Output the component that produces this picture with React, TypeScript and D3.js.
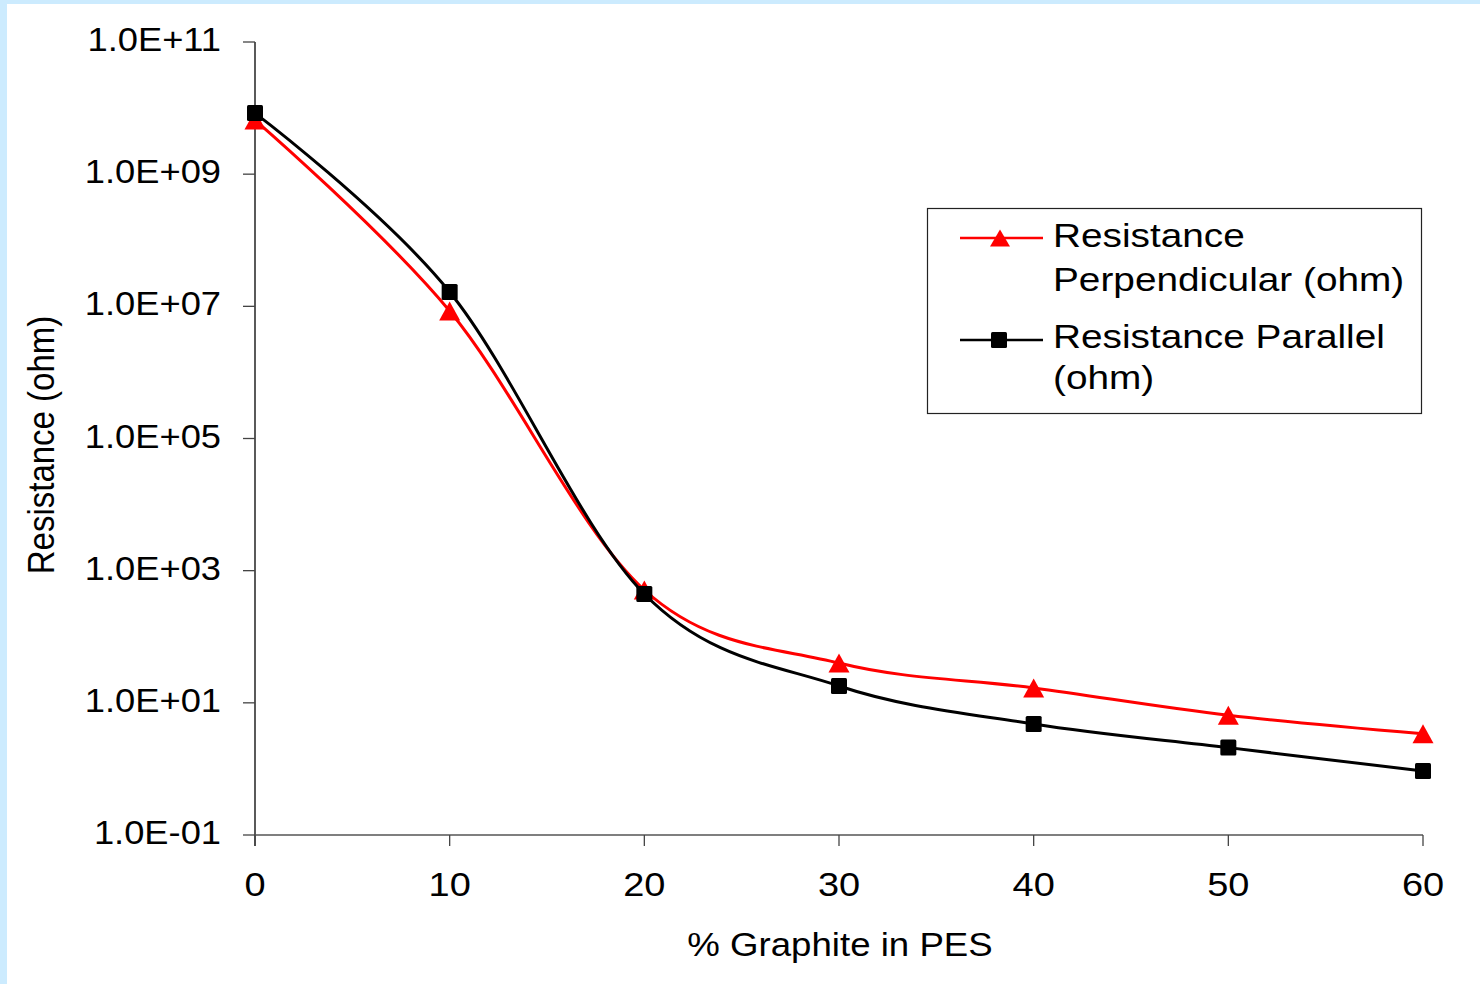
import React from "react";
import * as d3 from "d3";

const graphitePct = [0, 10, 20, 30, 40, 50, 60];
const resistancePerpendicular = [6.6e9, 8.5e6, 510, 40, 16.8, 6.5, 3.4];
const resistanceParallel = [8.4e9, 1.65e7, 444, 18, 4.8, 2.1, 0.93];
const yTickValues = [1e11, 1e9, 1e7, 1e5, 1e3, 1e1, 1e-1];
const yTickLabels = ["1.0E+11", "1.0E+09", "1.0E+07", "1.0E+05", "1.0E+03", "1.0E+01", "1.0E-01"];
const xTickValues = [0, 10, 20, 30, 40, 50, 60];
const seriesNames = ["Resistance Perpendicular (ohm)", "Resistance Parallel (ohm)"];

const W = 1480;
const H = 984;
const FONT = "'Liberation Sans', Arial, Helvetica, sans-serif";
const FS = 33;
const SX_YTICK = 1.1;
const SX_XTICK = 1.15;
const SX_TITLE = 1.11;
const SX_LEGEND = 1.175;

export default function App() {
  const x = d3.scaleLinear().domain([0, 60]).range([255, 1423]);
  const y = d3.scaleLog().domain([1e-1, 1e11]).range([835, 42]);
  const line = d3
    .line<[number, number]>()
    .x((d) => x(d[0]))
    .y((d) => y(d[1]))
    .curve(d3.curveCardinal.tension(0));

  const perp: [number, number][] = graphitePct.map((g, i) => [g, resistancePerpendicular[i]]);
  const para: [number, number][] = graphitePct.map((g, i) => [g, resistanceParallel[i]]);

  const tri = (cx: number, cy: number, w = 21, h = 19) =>
    `M${cx},${cy - h / 2}L${cx + w / 2},${cy + h / 2}L${cx - w / 2},${cy + h / 2}Z`;
  const sq = 16;

  const y0 = 835;
  const xLeft = 255;

  return (
    <svg
      width={W}
      height={H}
      style={{ position: "absolute", left: 0, top: 0, background: "#fff" }}
      fontFamily={FONT}
    >
      <rect x={0} y={0} width={W} height={H} fill="#fff" />
      <rect x={0} y={0} width={W} height={4} fill="#CCEBFE" />
      <rect x={0} y={0} width={7} height={H} fill="#CCEBFE" />

      {/* Y axis */}
      <line x1={xLeft} x2={xLeft} y1={y(1e11)} y2={y0 + 11} stroke="#000" strokeWidth={1.3} />
      {yTickValues.map((v, i) => (
        <g key={"yt" + i}>
          <line x1={xLeft - 12} x2={xLeft} y1={y(v)} y2={y(v)} stroke="#444" strokeWidth={1.3} />
          <text
            transform={`translate(221,${y(v) + 9}) scale(${SX_YTICK},1)`}
            textAnchor="end"
            fontSize={FS}
            fill="#000"
          >
            {yTickLabels[i]}
          </text>
        </g>
      ))}

      {/* X axis */}
      <line x1={xLeft} x2={x(60)} y1={y0} y2={y0} stroke="#555" strokeWidth={1.5} />
      {xTickValues.map((v) => (
        <g key={"xt" + v}>
          <line x1={x(v)} x2={x(v)} y1={y0} y2={y0 + 11} stroke="#444" strokeWidth={1.3} />
          <text
            transform={`translate(${x(v)},896) scale(${SX_XTICK},1)`}
            textAnchor="middle"
            fontSize={FS}
            fill="#000"
          >
            {v}
          </text>
        </g>
      ))}

      {/* Axis titles */}
      <text
        transform={`translate(840,956) scale(${SX_TITLE},1)`}
        textAnchor="middle"
        fontSize={FS}
        fill="#000"
      >
        % Graphite in PES
      </text>
      <text
        transform={`translate(54,445) scale(1.12,1) rotate(-90)`}
        textAnchor="middle"
        fontSize={FS}
        fill="#000"
      >
        Resistance (ohm)
      </text>

      {/* Series */}
      <path d={line(perp) || ""} fill="none" stroke="#FF0000" strokeWidth={3} />
      <path d={line(para) || ""} fill="none" stroke="#000" strokeWidth={3} />
      {perp.map((d, i) => (
        <path key={"pm" + i} d={tri(x(d[0]), y(d[1]))} fill="#FF0000" />
      ))}
      {para.map((d, i) => (
        <rect
          key={"qm" + i}
          x={x(d[0]) - sq / 2}
          y={y(d[1]) - sq / 2}
          width={sq}
          height={sq}
          rx={1.5}
          fill="#000"
        />
      ))}

      {/* Legend */}
      <rect x={927.5} y={208.5} width={494} height={205} fill="#fff" stroke="#222" strokeWidth={1.2} />
      <line x1={960} x2={1043} y1={238} y2={238} stroke="#FF0000" strokeWidth={2.5} />
      <path d={tri(1000, 238, 20, 17)} fill="#FF0000" />
      <line x1={960} x2={1043} y1={340} y2={340} stroke="#000" strokeWidth={2.5} />
      <rect x={991} y={332} width={16} height={16} rx={1.5} fill="#000" />
      <text transform={`translate(1053,247) scale(${SX_LEGEND},1)`} fontSize={FS} fill="#000">
        {seriesNames[0].split(" ")[0]}
      </text>
      <text transform={`translate(1053,291) scale(${SX_LEGEND},1)`} fontSize={FS} fill="#000">
        {seriesNames[0].split(" ").slice(1).join(" ")}
      </text>
      <text transform={`translate(1053,348) scale(${SX_LEGEND},1)`} fontSize={FS} fill="#000">
        {seriesNames[1].split(" ").slice(0, 2).join(" ")}
      </text>
      <text transform={`translate(1053,389) scale(${SX_LEGEND},1)`} fontSize={FS} fill="#000">
        {seriesNames[1].split(" ").slice(2).join(" ")}
      </text>
    </svg>
  );
}
